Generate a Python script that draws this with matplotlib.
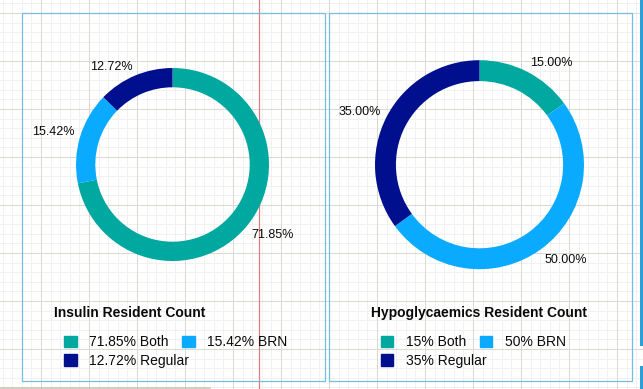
"""
Two doughnut charts: insulin and hypoglycaemics resident counts.
"""

import matplotlib
matplotlib.use("Agg")
import matplotlib.pyplot as plt
import numpy as np
from matplotlib.patches import Patch, Rectangle
from matplotlib.legend import Legend

plt.rcParams['font.family'] = ['Liberation Sans', 'DejaVu Sans']

#---------------------------------------
# Data
#---------------------------------------
categories = ["Both", "BRN", "Regular"]
insulin_values = [71.85, 15.42, 12.72]
hypo_values = [15.00, 50.00, 35.00]
insulin_legend = ["71.85% Both", "15.42% BRN", "12.72% Regular"]
hypo_legend = ["15% Both", "50% BRN", "35% Regular"]
titles = ["Insulin Resident Count", "Hypoglycaemics Resident Count"]

colours = ['#00a89f', '#0aaaff', '#000f8e']

W, H = 643, 389
fig = plt.figure(figsize=(W / 100, H / 100), dpi=100)

# background canvas in pixel coordinates
bg = fig.add_axes([0, 0, 1, 1], zorder=0)
bg.set_xlim(0, W)
bg.set_ylim(H, 0)
bg.axis('off')

# design-tool grid behind the charts (snapped to pixel centres)
minor_x = np.round(np.arange(40 - 48, W, 9.6)) + 0.5
minor_y = np.round(np.arange(12 - 48, H, 9.6)) + 0.5
for x in minor_x:
    bg.axvline(x, color='#f1f1f1', lw=0.72, zorder=1)
for y in minor_y:
    bg.axhline(y, color='#f1f1f1', lw=0.72, zorder=1)
for x in np.arange(40, W, 48) + 0.5:
    bg.axvline(x, color='#dcd8cf', lw=0.72, zorder=1.5)
for y in np.arange(12, H, 48) + 0.5:
    bg.axhline(y, color='#dcd8cf', lw=0.72, zorder=1.5)
bg.axvline(258.5, color='#e07f7f', lw=0.9, zorder=3)
bg.plot([0, 210], [387.5, 387.5], color='#c9c1b0', lw=1.1, zorder=3)

# panel frames
for (x0, x1) in [(21.5, 324.5), (328.5, 631.5)]:
    bg.add_patch(Rectangle((x0, 12.5), x1 - x0, 368, fill=False,
                           edgecolor='#74bde0', lw=0.9, zorder=3))
bg.add_patch(Rectangle((640, 0), 3, 346, color='#2a9fd8', lw=0, zorder=3))
bg.add_patch(Rectangle((640, 366), 3, 23, color='#2a9fd8', lw=0, zorder=3))


def doughnut(cx, cy, R, values, legend_labels, title, title_x, legend_x):
    ax = fig.add_axes([(cx - R) / W, 1 - (cy + R) / H, 2 * R / W, 2 * R / H],
                      zorder=2)
    wedges, _ = ax.pie(values, colors=colours, startangle=90, counterclock=False,
                       radius=1, wedgeprops=dict(width=0.2, linewidth=0))
    ax.set_xlim(-1, 1)
    ax.set_ylim(-1, 1)
    ax.axis('off')

    # percentage labels just outside each slice
    for w, v in zip(wedges, values):
        ang = np.deg2rad((w.theta1 + w.theta2) / 2)
        c, s = np.cos(ang), np.sin(ang)
        ax.annotate(f"{v:.2f}%", xy=(c, s), xytext=(6 * c, 6 * s),
                    textcoords='offset pixels', fontsize=9, color='#0a0a0a',
                    ha='left' if c > 0 else 'right',
                    va='baseline' if s > 0 else 'top')

    bg.text(title_x, 313, title, fontsize=10, fontweight='bold',
            ha='left', va='center', color='#0a0a0a', zorder=4)

    handles = [Patch(facecolor=col, edgecolor=col) for col in colours]
    kw = dict(frameon=False, fontsize=10, handlelength=0.9, handleheight=0.9,
              handletextpad=0.9, columnspacing=1.0, borderpad=0,
              borderaxespad=0, loc='center left', bbox_transform=bg.transData,
              labelcolor='#0a0a0a')
    # legend flows like the original: two items on the first row, one below
    leg1 = Legend(bg, handles[:2], legend_labels[:2], ncol=2,
                  bbox_to_anchor=(legend_x, 342.5), **kw)
    leg2 = Legend(bg, handles[2:], legend_labels[2:], ncol=1,
                  bbox_to_anchor=(legend_x, 361), **kw)
    for leg in (leg1, leg2):
        leg.set_zorder(4)
        bg.add_artist(leg)


doughnut(172.5, 164.5, 96.5, insulin_values, insulin_legend, titles[0], 54, 64)
doughnut(479.5, 164.7, 104.5, hypo_values, hypo_legend, titles[1], 370.7, 380.7)

plt.savefig('out.png', dpi=100)
